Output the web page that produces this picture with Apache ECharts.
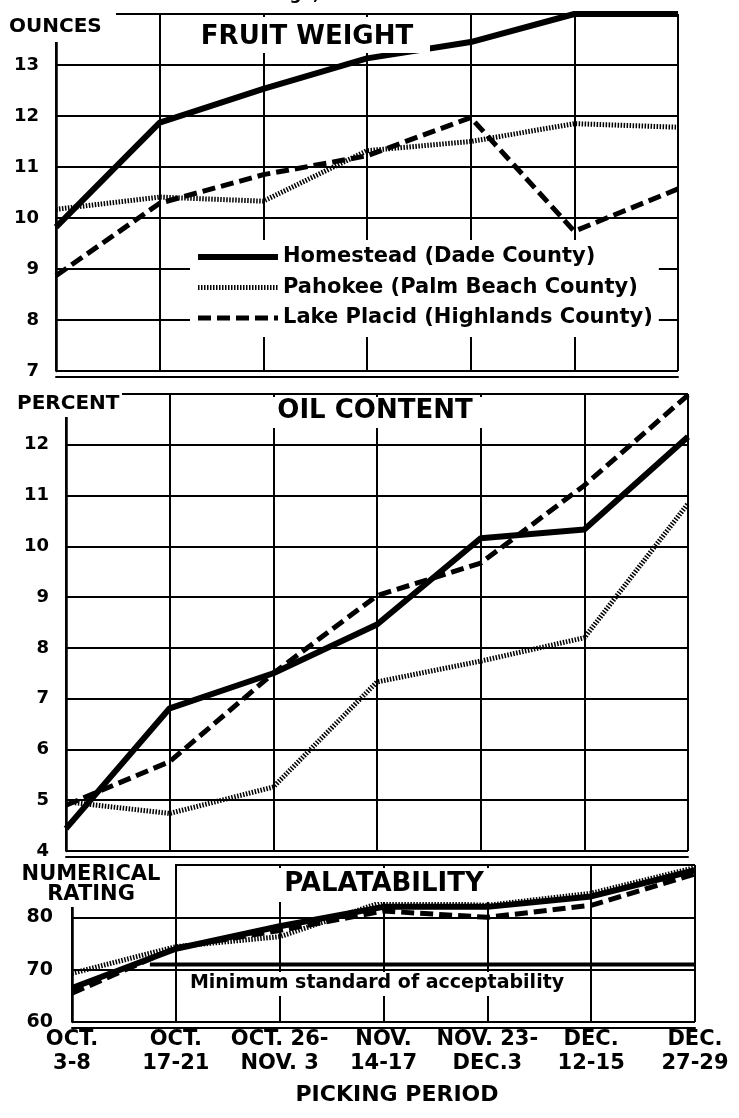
<!DOCTYPE html>
<html><head><meta charset="utf-8">
<script src="https://cdn.jsdelivr.net/npm/echarts@6/dist/echarts.min.js"></script>
<style>html,body{margin:0;padding:0;background:#fff}#c{width:739px;height:1118px}</style>
</head><body><div id="c"></div>
<script>
// ---- data ----
const categories = ['OCT.\n3-8', 'OCT.\n17-21', 'OCT. 26-\nNOV. 3', 'NOV.\n14-17', 'NOV. 23-\nDEC.3', 'DEC.\n12-15', 'DEC.\n27-29'];
const seriesNames = ['Homestead (Dade County)', 'Pahokee (Palm Beach County)', 'Lake Placid (Highlands County)'];

const weightHomestead = [9.82, 11.87, 12.53, 13.13, 13.45, 14.0, 14.0];
const weightPahokee   = [10.17, 10.41, 10.33, 11.32, 11.5, 11.85, 11.78];
const weightLakePlacid = [8.87, 10.29, 10.85, 11.22, 11.97, 9.74, 10.57];

const oilHomestead = [4.44, 6.81, 7.5, 8.46, 10.16, 10.33, 12.16];
const oilPahokee   = [4.97, 4.74, 5.26, 7.33, 7.74, 8.2, 10.84];
const oilLakePlacid = [4.9, 5.76, 7.5, 9.03, 9.67, 11.2, 12.98];

const palHomestead = [66.5, 74.0, 78.3, 82.0, 82.0, 84.0, 89.0];
const palPahokee   = [69.3, 74.4, 76.3, 83.0, 82.3, 84.6, 89.5];
const palLakePlacid = [65.5, 74.2, 77.5, 81.2, 80.0, 82.3, 88.3];

const minStandardValue = 71;
const minStandardFrom = 0.75;
const minStandardLabel = 'Minimum standard of acceptability';

const weightRange = [7, 14, 1];
const oilRange = [4, 13, 1];
const palRange = [60, 90, 10];

// ---- chart ----
const FONT = '"DejaVu Sans", sans-serif';
const lineStyles = [
  { color: '#000', width: 6, type: 'solid' },
  { color: '#000', width: 5, type: [1.5, 1.5] },
  { color: '#000', width: 5, type: [13, 6] }
];
const grids = [
  { left: 56, top: 14, width: 622, height: 357 },
  { left: 66, top: 394, width: 622, height: 457 },
  { left: 72, top: 865, width: 623, height: 157 }
];
const ranges = [weightRange, oilRange, palRange];
const panelData = [
  [weightHomestead, weightPahokee, weightLakePlacid],
  [oilHomestead, oilPahokee, oilLakePlacid],
  [palHomestead, palPahokee, palLakePlacid]
];

const xAxes = grids.map((g, i) => ({
  type: 'value', gridIndex: i, min: 0, max: categories.length - 1, interval: 1,
  offset: 6,
  axisLine: { show: true, onZero: false, lineStyle: { color: '#000', width: 2 } },
  axisTick: { show: false },
  splitLine: { show: true, lineStyle: { color: '#000', width: 2 } },
  axisLabel: i === 2 ? {
    show: true, margin: 0, color: '#000', fontFamily: FONT, fontWeight: 'bold',
    fontSize: 21, lineHeight: 24, formatter: v => categories[v] || ''
  } : { show: false }
}));
const yAxes = ranges.map((r, i) => ({
  type: 'value', gridIndex: i, min: r[0], max: r[1], interval: r[2],
  axisLine: { show: true, lineStyle: { color: '#000', width: 2.5 } },
  axisTick: { show: false },
  splitLine: { show: true, lineStyle: { color: '#000', width: 2 } },
  axisLabel: {
    color: '#000', fontFamily: FONT, fontWeight: 'bold', fontSize: i === 2 ? 19 : 18,
    margin: i === 2 ? 19 : 17, formatter: v => (v === r[1] ? '' : String(v))
  }
}));

const series = [];
const drawOrder = [0, 2, 1];
panelData.forEach((arrs, p) => {
  drawOrder.forEach(k => {
    series.push({
      name: seriesNames[k], type: 'line', xAxisIndex: p, yAxisIndex: p,
      data: arrs[k].map((v, j) => [j, v]), symbol: 'none', silent: true,
      lineStyle: lineStyles[k], itemStyle: { color: '#000' }, z: 3 + k
    });
  });
});
series.push({
  name: 'min', type: 'line', xAxisIndex: 2, yAxisIndex: 2, symbol: 'none', silent: true,
  data: [[minStandardFrom, minStandardValue], [categories.length - 1, minStandardValue]],
  lineStyle: { color: '#000', width: 4 }, z: 2
});

function txt(text, x, y, size, align, vAlign, extra) {
  return {
    type: 'text', z: 101,
    style: Object.assign({
      text, x, y, fill: '#000', fontFamily: 'DejaVu Sans', fontWeight: 'bold', fontSize: size,
      align: align, verticalAlign: vAlign
    }, extra || {})
  };
}
function mask(x, y, w, h) {
  return { type: 'rect', z: 100, silent: true, shape: { x, y, width: w, height: h }, style: { fill: '#fff' } };
}

const option = {
  backgroundColor: '#fff',
  animation: false,
  grid: grids,
  xAxis: xAxes,
  yAxis: yAxes,
  legend: {
    data: seriesNames, orient: 'vertical', left: 190, top: 240,
    itemWidth: 80, itemHeight: 14, itemGap: 8.5, padding: [6, 6, 8, 5],
    backgroundColor: '#fff', selectedMode: false, z: 50,
    textStyle: { color: '#000', fontFamily: FONT, fontWeight: 'bold', fontSize: 21, lineHeight: 22 },
    lineStyle: { width: 'inherit' },
    itemStyle: { opacity: 0, color: 'rgba(0,0,0,0)', borderWidth: 0 }
  },
  series: series,
  graphic: { elements: [
    mask(0, 6, 116, 36),
    mask(186, 17, 244, 36),
    mask(0, 384, 122, 33),
    mask(263, 397, 224, 31),
    mask(0, 858, 175, 49),
    mask(273, 868, 222, 34),
    mask(186, 972, 384, 24),
    txt('Average,1958-61', 316, 3, 17, 'center', 'bottom'),
    txt('OUNCES', 9, 27, 20, 'left', 'middle'),
    txt('FRUIT WEIGHT', 307, 37, 26, 'center', 'middle'),
    txt('PERCENT', 17, 404, 20, 'left', 'middle'),
    txt('OIL CONTENT', 375, 411, 26, 'center', 'middle'),
    txt('NUMERICAL\nRATING', 91, 885, 21, 'center', 'middle', { lineHeight: 20 }),
    txt('PALATABILITY', 384, 884, 26, 'center', 'middle'),
    txt(minStandardLabel, 377, 983, 19, 'center', 'middle'),
    txt('PICKING PERIOD', 397, 1095, 22, 'center', 'middle')
  ]}
};

const chart = echarts.init(document.getElementById('c'), null, { renderer: 'canvas' });
chart.setOption(option);
</script>
</body></html>
